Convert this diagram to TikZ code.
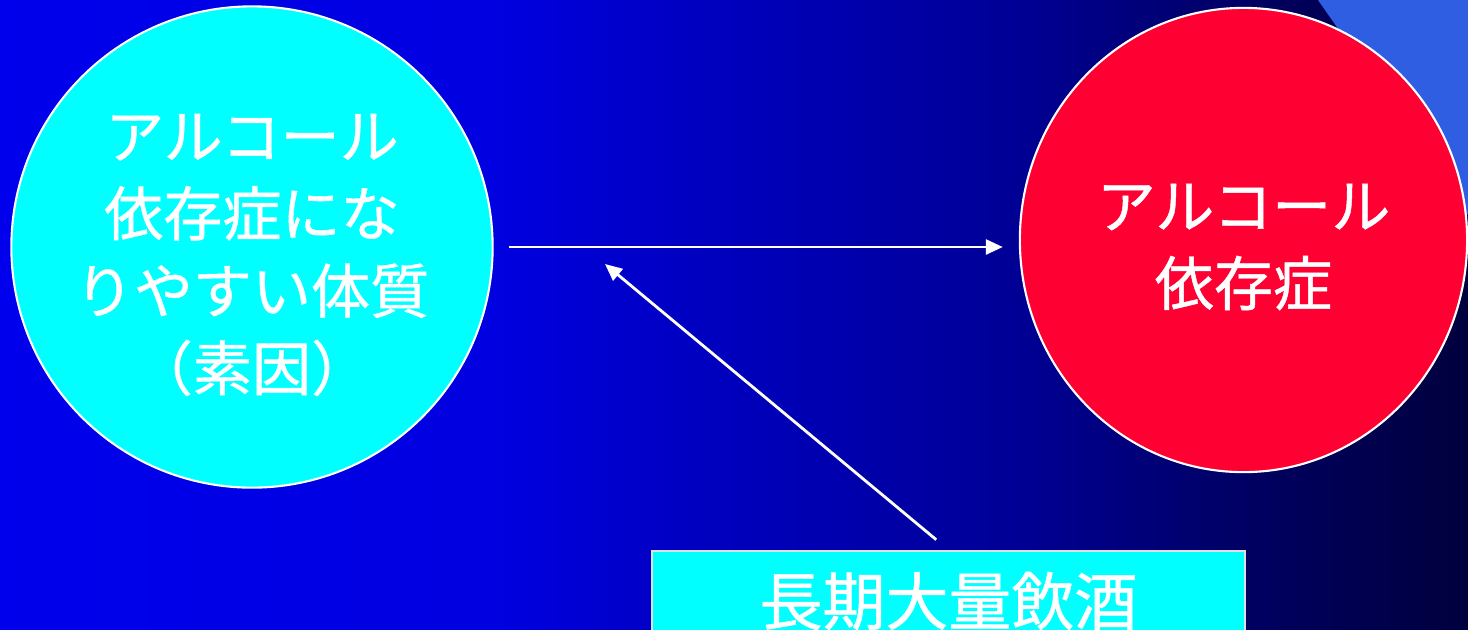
\documentclass[tikz,border=0pt]{standalone}
\usepackage{fontspec}
\newfontfamily\jpfont[RawFeature={embolden=0.8}]{Noto Sans CJK JP}
\usetikzlibrary{arrows.meta,shapes.geometric}
\definecolor{bgA}{RGB}{0,0,236}
\definecolor{bgB}{RGB}{0,0,224}
\definecolor{bgC}{RGB}{0,0,200}
\definecolor{bgD}{RGB}{0,0,152}
\definecolor{bgE}{RGB}{0,0,90}
\definecolor{bgF}{RGB}{0,0,62}
\definecolor{soincyan}{RGB}{0,255,255}
\definecolor{izonred}{RGB}{255,0,51}
\definecolor{wedgeblue}{RGB}{48,94,226}
\pgfdeclarehorizontalshading{bgshade}{100bp}{color(0bp)=(bgA); color(25bp)=(bgA); color(42bp)=(bgB); color(47bp)=(bgC); color(59bp)=(bgD); color(69bp)=(bgE); color(75bp)=(bgF); color(100bp)=(bgF)}
\def\bigjp{\jpfont\fontsize{16.8}{22}\selectfont}

\begin{document}
\begin{tikzpicture}[x=0.01cm, y=-0.01cm,
    bubble/.style={draw=white, line width=0.6pt, inner sep=0pt},
    bubbletext/.style={text=white, align=center, font=\bigjp, inner sep=0pt},
    link/.style={draw=white, line width=0.8pt, -{Triangle[length=0.17cm, width=0.15cm]}}]
			%%%%% START %%%%%
			
			\useasboundingbox (0, 0) rectangle (1468, 629);
			\clip (0, 0) rectangle (1468, 629);
			\shade[shading=bgshade] (0, 0) rectangle (1468, 629);
			\fill[wedgeblue] (1318, 0) -- (1468, 0) -- (1468, 215) -- cycle;
			
			\node[bubble, circle, fill=soincyan, minimum size=4.81cm] (soin) at (252, 247) {};
			\node[bubbletext] (soinlabel) at ([yshift=-0.08cm]soin.center)
				{アルコール\\依存症にな\\りやすい体質\\（素因）};
			
			\node[bubble, ellipse, fill=izonred, minimum width=4.47cm, minimum height=4.64cm] (izon) at (1243.5, 240) {};
			\node[bubbletext] (izonlabel) at ([yshift=-0.07cm]izon.center) {アルコール\\依存症};
			
			\node[draw=gray!25, line width=0.6pt, fill=soincyan, text=white, font=\jpfont\fontsize{17.9}{22}\selectfont,
				minimum width=5.93cm, minimum height=1.0cm, inner sep=0pt] (drink) at (948.5, 601) {長期大量飲酒};
			
			\coordinate (tip) at (605, 264);
			
			\draw[link, shorten <=0.15cm, shorten >=0.16cm] (soin.east) -- (soin.east -| izon.west);
			\draw[link, shorten <=0.16cm] (drink.north) -- (tip);
			
			%%%%% END %%%%%
\end{tikzpicture}
\end{document}
